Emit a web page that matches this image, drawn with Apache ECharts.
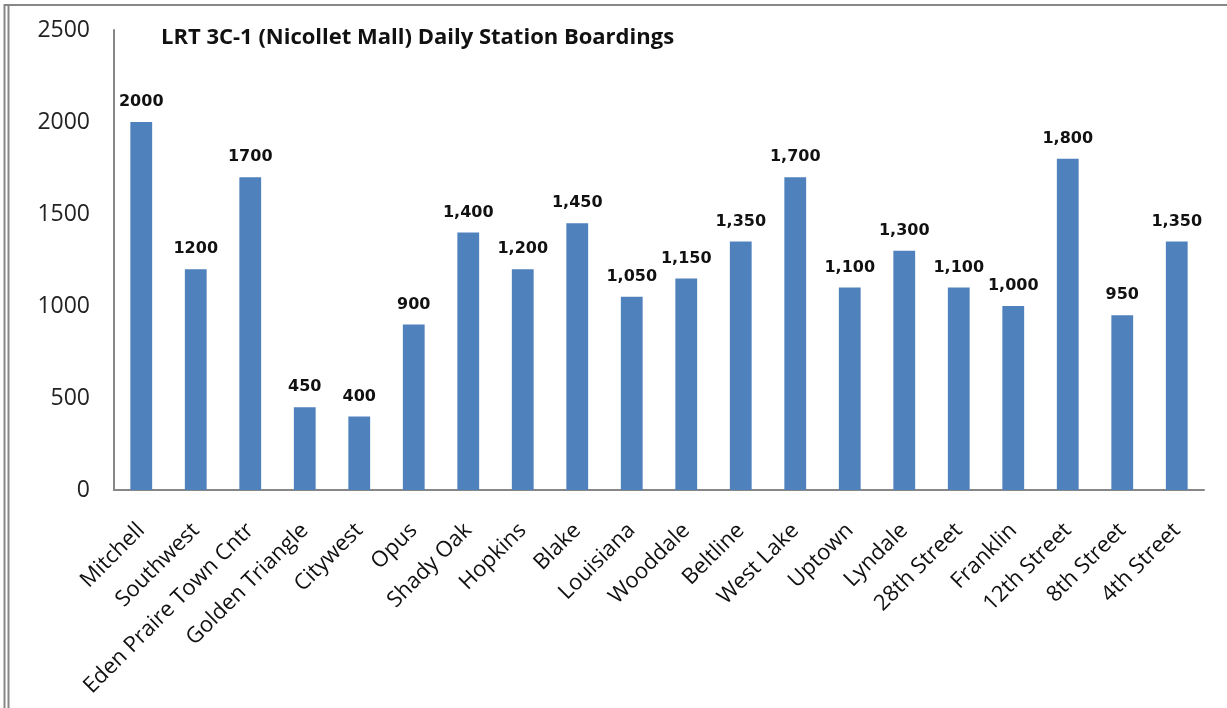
<!DOCTYPE html>
<html>
<head>
<meta charset="utf-8">
<script src="https://cdn.jsdelivr.net/npm/echarts@6/dist/echarts.min.js"></script>
<style>
  html, body { margin: 0; padding: 0; background: #fff; }
  #chart { width: 1227px; height: 708px; }
</style>
</head>
<body>
<div id="chart"></div>
<script>
const stations = [
  "Mitchell", "Southwest", "Eden Praire Town Cntr", "Golden Triangle", "Citywest",
  "Opus", "Shady Oak", "Hopkins", "Blake", "Louisiana", "Wooddale", "Beltline",
  "West Lake", "Uptown", "Lyndale", "28th Street", "Franklin", "12th Street",
  "8th Street", "4th Street",
];
const boardings = [
  2000, 1200, 1700, 450, 400, 900, 1400, 1200, 1450, 1050, 1150, 1350,
  1700, 1100, 1300, 1100, 1000, 1800, 950, 1350,
];
// the source chart prints the first six without thousands separators
const valueLabels = [
  "2000", "1200", "1700", "450", "400", "900", "1,400", "1,200", "1,450", "1,050",
  "1,150", "1,350", "1,700", "1,100", "1,300", "1,100", "1,000", "1,800", "950", "1,350",
];
const yTicks = [0, 500, 1000, 1500, 2000, 2500];

const chart = echarts.init(document.getElementById("chart"));
const frameColor = "#878787";

chart.setOption({
  animation: false,
  title: {
    text: "LRT 3C-1 (Nicollet Mall) Daily Station Boardings",
    left: 156,
    top: 22,
    textStyle: { fontFamily: "Open Sans", fontWeight: "bold", fontSize: 22, color: "#111" },
  },
  grid: { left: 114, right: 23, top: 30, bottom: 218, containLabel: false },
  xAxis: {
    type: "category",
    data: stations,
    axisLine: { show: true, lineStyle: { color: frameColor, width: 2 } },
    axisTick: { show: false },
    axisLabel: {
      interval: 0,
      rotate: 45,
      margin: 37,
      fontFamily: "Open Sans",
      fontSize: 22,
      color: "#111",
    },
  },
  yAxis: {
    type: "value",
    min: yTicks[0],
    max: yTicks[yTicks.length - 1],
    interval: 500,
    splitLine: { show: false },
    axisLine: { show: true, lineStyle: { color: frameColor, width: 2 } },
    axisTick: { show: false },
    axisLabel: {
      margin: 24,
      formatter: (v) => String(v),
      fontFamily: "Open Sans",
      fontSize: 23,
      color: "#222",
    },
  },
  series: [
    {
      type: "bar",
      data: boardings,
      barWidth: "40%",
      itemStyle: { color: "#4F81BD" },
      label: {
        show: true,
        position: "top",
        distance: 12,
        formatter: (p) => valueLabels[p.dataIndex],
        fontFamily: "DejaVu Sans",
        fontWeight: "bold",
        fontSize: 16,
        color: "#111",
      },
    },
  ],
  graphic: [
    { type: "line", shape: { x1: 4.5, y1: 4, x2: 4.5, y2: 708 }, style: { stroke: frameColor, lineWidth: 2 } },
    { type: "line", shape: { x1: 8.5, y1: 4, x2: 8.5, y2: 708 }, style: { stroke: frameColor, lineWidth: 2 } },
    { type: "line", shape: { x1: 4, y1: 5, x2: 1227, y2: 5 }, style: { stroke: frameColor, lineWidth: 2 } },
  ],
});
</script>
</body>
</html>
